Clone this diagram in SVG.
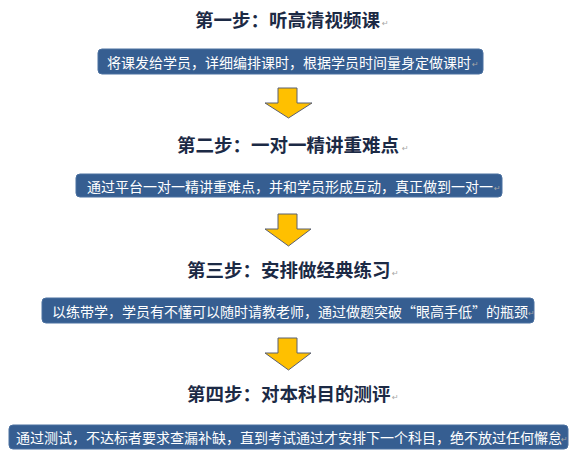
<svg xmlns="http://www.w3.org/2000/svg" width="574" height="460" viewBox="0 0 574 460">
<style>
.title{font-family:"Noto Sans CJK SC","Microsoft YaHei",sans-serif;font-weight:bold;font-size:18.5px;fill:#1c2a45;dominant-baseline:central}
.box{fill:#365e91;stroke:#4a70a0;stroke-width:1}
.btxt{font-family:"Noto Sans CJK SC","Microsoft YaHei",sans-serif;font-size:14px;fill:#ffffff;dominant-baseline:central}
.mark{font-family:"DejaVu Sans",sans-serif;font-size:8px;fill:#a6a6a6;dominant-baseline:central}
.arrow{fill:#ffc000;stroke:#5b6070;stroke-width:1}
</style>
<rect width="574" height="460" fill="#ffffff"/>
<g id="step1">
<text class="title" x="195" y="19">第一步：听高清视频课</text>
<text class="mark" x="382" y="23">↵</text>
</g>
<g id="desc1">
<rect class="box" x="98" y="49" width="385" height="25" rx="4"/>
<text class="btxt" x="107" y="61.5">将课发给学员，详细编排课时，根据学员时间量身定做课时</text>
<text class="mark" x="472" y="64">↵</text>
</g>
<g id="step2">
<text class="title" x="177" y="144">第二步：一对一精讲重难点</text>
<text class="mark" x="402" y="148">↵</text>
</g>
<g id="desc2">
<rect class="box" x="76" y="174" width="426" height="23" rx="4"/>
<text class="btxt" x="87" y="185.5">通过平台一对一精讲重难点，并和学员形成互动，真正做到一对一</text>
<text class="mark" x="494" y="188">↵</text>
</g>
<g id="step3">
<text class="title" x="187" y="269">第三步：安排做经典练习</text>
<text class="mark" x="392" y="273">↵</text>
</g>
<g id="desc3">
<rect class="box" x="42" y="298" width="492" height="25" rx="4"/>
<text class="btxt" x="52" y="310.5">以练带学，学员有不懂可以随时请教老师，通过做题突破“眼高手低”的瓶颈</text>
<text class="mark" x="528" y="313">↵</text>
</g>
<g id="step4">
<text class="title" x="187" y="393">第四步：对本科目的测评</text>
<text class="mark" x="392" y="397">↵</text>
</g>
<g id="desc4">
<rect class="box" x="9" y="425" width="559" height="24" rx="4"/>
<text class="btxt" x="16" y="437">通过测试，不达标者要求查漏补缺，直到考试通过才安排下一个科目，绝不放过任何懈怠</text>
<text class="mark" x="561" y="439">↵</text>
</g>
<g id="connectors">
<polygon class="arrow" points="278,88 297,88 297,103 312,103 288.5,118 265,103 278,103"/>
<polygon class="arrow" points="278,214 297,214 297,229 311,229 288.5,246 265,229 278,229"/>
<polygon class="arrow" points="278,338 297,338 297,353 311,353 288.5,370 265,353 278,353"/>
</g>
</svg>
